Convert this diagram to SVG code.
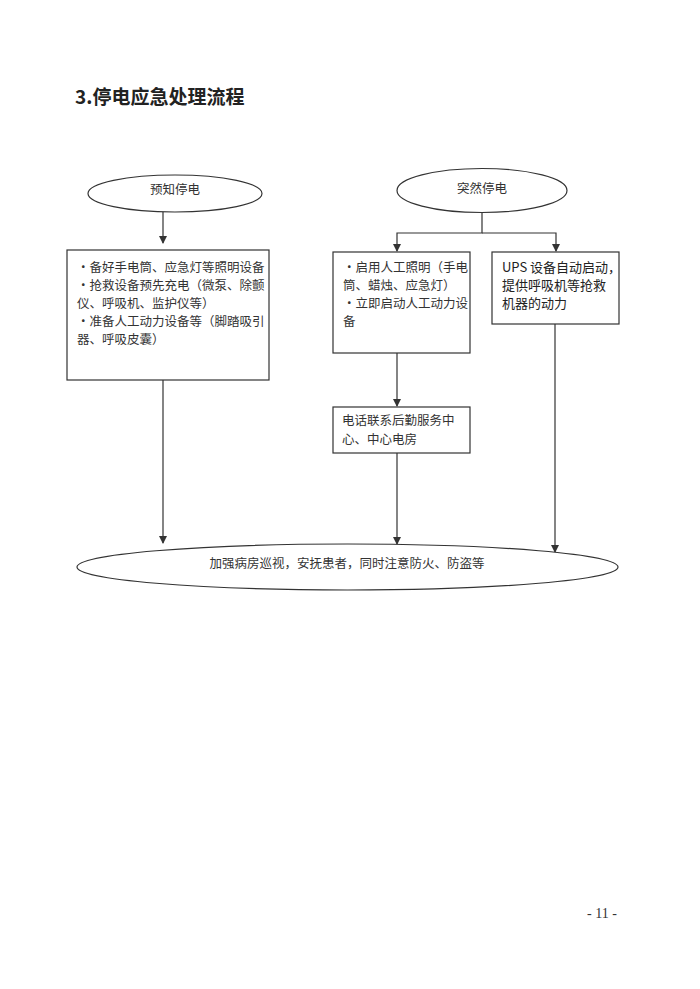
<svg xmlns="http://www.w3.org/2000/svg" width="700" height="989" viewBox="0 0 700 989">
<defs>
<style>
.shape{fill:#fff;stroke:#333;stroke-width:1.2}
.ln{fill:none;stroke:#333;stroke-width:1.2}
.t{font-family:"Noto Sans CJK SC","Liberation Sans",sans-serif;font-size:12.5px;fill:#333}
.tc{text-anchor:middle}
.b{font-family:"Noto Sans CJK SC","Liberation Sans",sans-serif;font-size:13px;fill:#222}
</style>
<marker id="ah" markerWidth="8" markerHeight="8" refX="7" refY="4" orient="auto" markerUnits="userSpaceOnUse">
<path d="M0,0 L8,4 L0,8 Z" fill="#333"/>
</marker>
</defs>
<rect width="700" height="989" fill="#fff"/>
<text x="75" y="104" font-family="Noto Sans CJK SC,sans-serif" font-size="19" font-weight="bold" fill="#222">3.停电应急处理流程</text>

<g id="connectors">
<line class="ln" x1="163" y1="212" x2="163" y2="243" marker-end="url(#ah)"/>
<polyline class="ln" points="482,213 482,233 397,233 397,251" marker-end="url(#ah)"/>
<polyline class="ln" points="482,233 556,233 556,251" marker-end="url(#ah)"/>
<line class="ln" x1="397" y1="353" x2="397" y2="406" marker-end="url(#ah)"/>
<line class="ln" x1="163" y1="380" x2="163" y2="543" marker-end="url(#ah)"/>
<line class="ln" x1="397" y1="453" x2="397" y2="544" marker-end="url(#ah)"/>
<line class="ln" x1="555" y1="324" x2="555" y2="552" marker-end="url(#ah)"/>
</g>

<g id="n_planned">
<ellipse class="shape" cx="175" cy="193.5" rx="87" ry="18.5"/>
<text class="t tc" x="175" y="194">预知停电</text>
</g>
<g id="n_sudden">
<ellipse class="shape" cx="482" cy="190.5" rx="85" ry="22"/>
<text class="t tc" x="482" y="193">突然停电</text>
</g>
<g id="n_prep">
<rect class="shape" x="67" y="250" width="202" height="130"/>
<text class="t" x="77" y="272">•备好手电筒、应急灯等照明设备</text>
<text class="t" x="77" y="290">•抢救设备预先充电（微泵、除颤</text>
<text class="t" x="77" y="308">仪、呼吸机、监护仪等）</text>
<text class="t" x="77" y="326">•准备人工动力设备等（脚踏吸引</text>
<text class="t" x="77" y="344">器、呼吸皮囊）</text>
</g>
<g id="n_manual">
<rect class="shape" x="333" y="252" width="137" height="101"/>
<text class="t" x="343" y="272">•启用人工照明（手电</text>
<text class="t" x="343" y="290">筒、蜡烛、应急灯）</text>
<text class="t" x="343" y="308">•立即启动人工动力设</text>
<text class="t" x="343" y="326">备</text>
</g>
<g id="n_ups">
<rect class="shape" x="492" y="252" width="127" height="72"/>
<text class="b" x="502" y="272">UPS 设备自动启动，</text>
<text class="b" x="502" y="290">提供呼吸机等抢救</text>
<text class="b" x="502" y="308">机器的动力</text>
</g>
<g id="n_phone">
<rect class="shape" x="333" y="407" width="137" height="46"/>
<text class="t" x="342" y="425">电话联系后勤服务中</text>
<text class="t" x="342" y="444">心、中心电房</text>
</g>
<g id="n_patrol">
<ellipse class="shape" cx="347.5" cy="567" rx="270.5" ry="23"/>
<text class="t tc" x="347" y="568" font-size="12">加强病房巡视，安抚患者，同时注意防火、防盗等</text>
</g>

<text x="602" y="918" text-anchor="middle" font-family="Liberation Serif,serif" font-size="14" fill="#333">- 11 -</text>
</svg>
